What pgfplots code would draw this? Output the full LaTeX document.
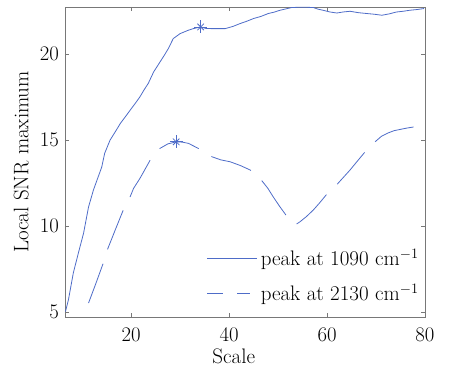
\documentclass[border=0pt]{standalone}
\usepackage{pgfplots}
\pgfplotsset{compat=1.18}
\definecolor{lc}{RGB}{78,108,200}
\definecolor{fr}{RGB}{120,120,120}
\begin{document}
\fontsize{21}{25}\selectfont
\begin{tikzpicture}
\useasboundingbox (-65pt,-52pt) rectangle (392pt,317pt);
\begin{axis}[
 scale only axis, width=360pt, height=310pt,
 xmin=6.5, xmax=80, ymin=4.7, ymax=22.75,
 xtick={20,40,60,80}, ytick={5,10,15,20},
 tick align=inside, major tick length=4pt,
 axis line style={fr, line width=0.8pt},
 every tick/.style={fr, line width=0.6pt},
 xticklabel style={inner sep=0pt, anchor=north, yshift=-11pt},
 yticklabel style={inner sep=0pt, anchor=east, xshift=-6pt},
 xlabel={Scale}, ylabel={Local SNR maximum},
 xlabel style={at={(axis description cs:0.4686,-0.1516)}, anchor=base},
 ylabel style={at={(axis description cs:-0.1019,0.5)}, anchor=base},
 legend cell align=left,
 legend style={draw=none, fill=none, at={(axis description cs:0.3944,0.2323)}, anchor=north west, inner sep=0pt, outer sep=0pt, column sep=3pt, row sep=9pt, nodes={inner sep=0pt, text height=21pt, text depth=5pt}},
]
\addplot[lc, line width=0.8pt,
 legend image code/.code={\draw[lc, line width=0.8pt] (0pt,0pt) -- (50pt,0pt);}]
coordinates {
(6.6,5.02) (7.2,5.7) (8.2,7.27) (9.3,8.5) (10.3,9.59) (11.3,11.1) (12.3,12.09) (13.2,12.8) (14.0,13.43)
(14.6,14.23) (15.7,15.0) (16.8,15.5) (17.8,15.97) (18.8,16.35) (19.8,16.74) (20.8,17.12) (21.8,17.52) (22.7,17.95) (23.5,18.30)
(24.6,18.97) (25.9,19.55) (26.8,19.95) (27.6,20.33) (28.6,20.91) (30.0,21.2) (31.7,21.4) (32.7,21.49)
(34.2,21.59) (35.3,21.5) (36.5,21.49) (39.2,21.49) (40.8,21.62) (42.2,21.78) (43.6,21.92) (45.0,22.08) (46.5,22.2) (48.0,22.37)
(49.2,22.45) (50.4,22.56) (51.6,22.64) (52.8,22.72) (55.0,22.74) (57.2,22.72) (58.2,22.62) (59.2,22.56) (60.6,22.46) (62.0,22.40)
(63.3,22.46) (64.7,22.5) (66.4,22.42) (68.1,22.37) (69.6,22.33) (71.2,22.27) (72.7,22.35) (74.2,22.46) (75.5,22.5) (76.9,22.56)
(78.3,22.6) (79.8,22.66)
};
\addlegendentry{peak at 1090 cm$^{-1}$}
\addplot[lc, line width=0.8pt, dash pattern=on 42pt off 15pt,
 legend image code/.code={\draw[lc, line width=0.8pt, dash pattern=on 16pt off 14pt] (0pt,0pt) -- (43pt,0pt);}]
coordinates {
(11.3,5.51) (12.8,6.65) (14.3,7.83) (15.2,8.65) (16.8,9.8) (18.4,10.93) (19.8,11.70) (20.5,12.19) (21.8,12.77)
(23.9,13.84) (25.9,14.52) (27.5,14.78) (29.2,14.9) (30.5,14.88) (31.7,14.81) (33.7,14.52) (35.1,14.25) (36.5,14.03)
(38.3,13.85) (40.2,13.74) (42.3,13.52) (44.3,13.26) (45.5,13.0) (46.7,12.63) (47.9,12.2) (49.0,11.70) (50.3,11.15)
(51.6,10.64) (52.7,10.25) (53.6,10.08) (54.5,10.25) (55.8,10.55) (57.2,10.93) (58.5,11.35) (59.8,11.80) (61.0,12.15)
(62.1,12.44) (63.4,12.85) (64.7,13.26) (66.2,13.78) (67.6,14.26) (68.7,14.62) (69.8,14.9) (71.1,15.22) (72.5,15.42)
(73.7,15.55) (74.9,15.62) (76.3,15.7) (77.8,15.77)
};
\addlegendentry{peak at 2130 cm$^{-1}$}
\addplot[lc, line width=0.8pt, only marks, mark=+, mark size=6.5pt, forget plot]
coordinates {(34.2,21.59) (29.2,14.9)};
\addplot[lc, line width=0.8pt, only marks, mark=x, mark size=4.6pt, forget plot]
coordinates {(34.2,21.59) (29.2,14.9)};
\end{axis}
\end{tikzpicture}
\end{document}
